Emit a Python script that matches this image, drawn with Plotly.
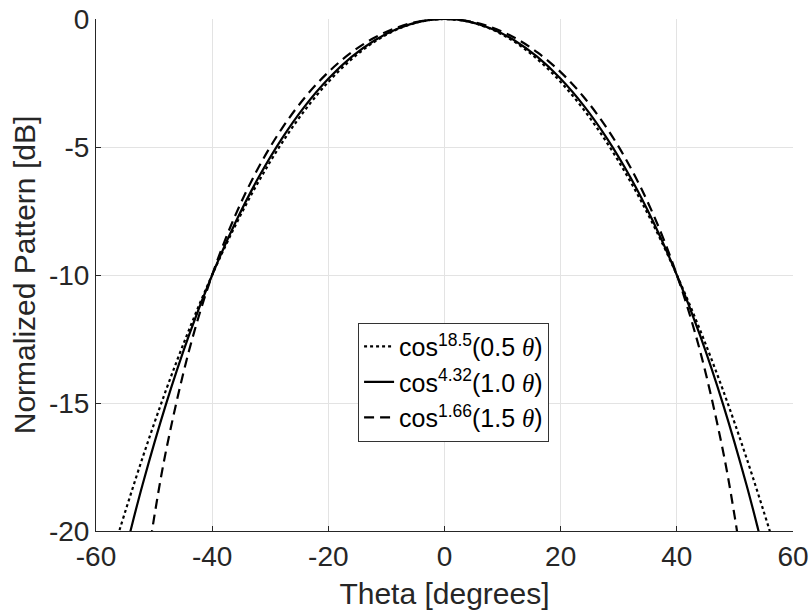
import plotly.graph_objects as go

theta_a = [-58, -56, -52, -48, -44, -40, -36, -32, -28, -24, -20, -16, -12, -8, -4, 0,
           4, 8, 12, 16, 20, 24, 28, 32, 36, 40, 44, 48, 52, 56, 58]
pat_a = [-21.53, -20.00, -17.15, -14.53, -12.15, -9.995, -8.063, -6.348, -4.845, -3.550, -2.460,
         -1.571, -0.883, -0.392, -0.098, 0.0,
         -0.098, -0.392, -0.883, -1.571, -2.460, -3.550, -4.845, -6.348, -8.063, -9.995,
         -12.15, -14.53, -17.15, -20.00, -21.53]

theta_b = [-55, -54, -52, -48, -44, -40, -36, -32, -28, -24, -20, -16, -12, -8, -4, 0,
           4, 8, 12, 16, 20, 24, 28, 32, 36, 40, 44, 48, 52, 54, 55]
pat_b = [-20.86, -19.94, -18.20, -15.08, -12.36, -10.00, -7.952, -6.184, -4.671, -3.393, -2.334,
         -1.482, -0.829, -0.367, -0.092, 0.0,
         -0.092, -0.367, -0.829, -1.482, -2.334, -3.393, -4.671, -6.184, -7.952, -10.00,
         -12.36, -15.08, -18.20, -19.94, -20.86]

theta_c = [-51, -50, -48, -44, -40, -36, -32, -28, -24, -20, -16, -12, -8, -4, 0,
           4, 8, 12, 16, 20, 24, 28, 32, 36, 40, 44, 48, 50, 51]
pat_c = [-20.98, -19.49, -16.93, -12.97, -9.994, -7.662, -5.793, -4.280, -3.056, -2.074,
         -1.304, -0.724, -0.319, -0.079, 0.0,
         -0.079, -0.319, -0.724, -1.304, -2.074, -3.056, -4.280, -5.793, -7.662, -9.994,
         -12.97, -16.93, -19.49, -20.98]

TH = "<span style='font-family:Liberation Serif'><i>θ</i></span>"
names = ["cos<sup>18.5</sup>(0.5 " + TH + ")",
         "cos<sup>4.32</sup>(1.0 " + TH + ")",
         "cos<sup>1.66</sup>(1.5 " + TH + ")"]

x_ticks = [-60, -40, -20, 0, 20, 40, 60]
y_ticks = [-20, -15, -10, -5, 0]

FONT = "Liberation Sans, Arial, sans-serif"
TXT = "#262626"

fig = go.Figure()
fig.add_trace(go.Scatter(x=theta_a, y=pat_a, mode="lines", name=names[0],
                         line=dict(color="black", width=2.2, dash="dot", shape="spline")))
fig.add_trace(go.Scatter(x=theta_b, y=pat_b, mode="lines", name=names[1],
                         line=dict(color="black", width=2.2, dash="solid", shape="spline")))
fig.add_trace(go.Scatter(x=theta_c, y=pat_c, mode="lines", name=names[2],
                         line=dict(color="black", width=2.2, dash="10px,6px", shape="spline")))

fig.update_layout(
    width=809, height=613,
    margin=dict(l=96, r=16, t=19, b=82, autoexpand=False),
    paper_bgcolor="white", plot_bgcolor="white",
    font=dict(family=FONT, size=28, color=TXT),
    showlegend=True,
    legend=dict(x=0.376, y=0.407, xanchor="left", yanchor="top",
                bgcolor="white", bordercolor="#333333", borderwidth=1,
                font=dict(family=FONT, size=25, color="black"),
                itemwidth=30, tracegroupgap=0),
)
fig.update_xaxes(range=[-60, 60], tickvals=x_ticks, ticktext=[str(v) for v in x_ticks],
                 automargin=False,
                 showgrid=True, gridcolor="#e3e3e3", gridwidth=1,
                 showline=True, linecolor=TXT, linewidth=1,
                 ticks="inside", ticklen=5, tickcolor=TXT,
                 zeroline=False, tickfont=dict(size=28),
                 title=dict(text="Theta [degrees]", font=dict(size=30), standoff=12))
fig.update_yaxes(range=[-20, 0], tickvals=y_ticks, ticktext=[str(v) for v in y_ticks],
                 automargin=False,
                 showgrid=True, gridcolor="#e3e3e3", gridwidth=1,
                 showline=True, linecolor=TXT, linewidth=1,
                 ticks="inside", ticklen=5, tickcolor=TXT,
                 zeroline=False, tickfont=dict(size=28),
                 title=dict(text="Normalized Pattern [dB]", font=dict(size=30), standoff=4))

fig.write_html("out.html")
